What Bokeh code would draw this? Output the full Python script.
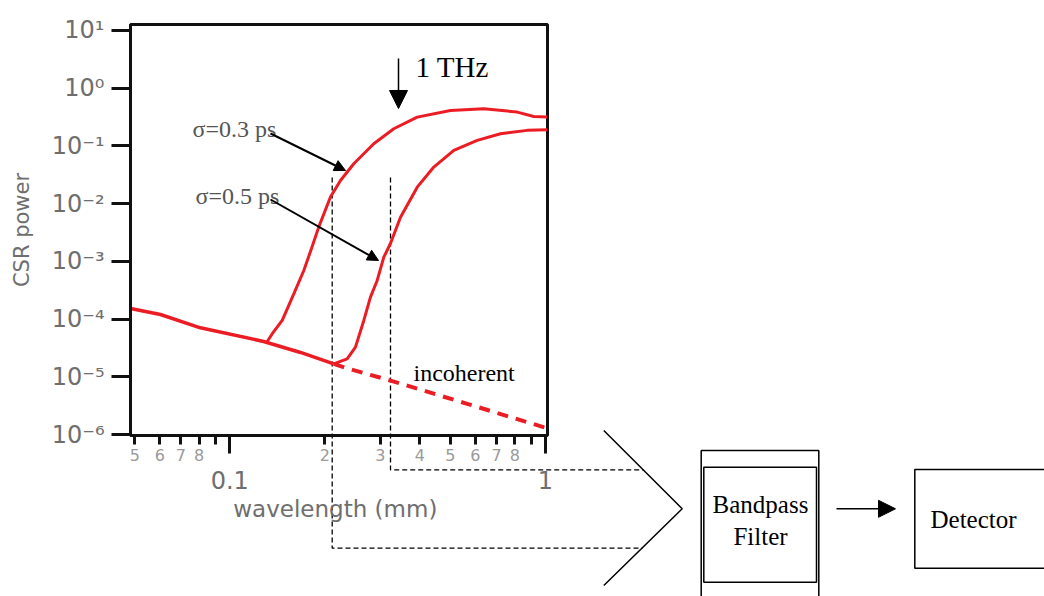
from bokeh.plotting import figure
from bokeh.models import (FixedTicker, Label, Arrow, NormalHead, GridBox, Range1d)
from bokeh.core.properties import value
from bokeh.embed import file_html
from bokeh.resources import INLINE

# ---------------- data ----------------
incoh_solid_x = [0.0485, 0.0603, 0.0807, 0.128, 0.1675, 0.2135]
incoh_solid_y = [1.53e-4, 1.20e-4, 7.06e-5, 4.09e-5, 2.64e-5, 1.68e-5]
incoh_dash_x = [0.2135, 0.2377, 0.323, 0.565, 0.9856, 1.015]
incoh_dash_y = [1.68e-5, 1.38e-5, 8.6e-6, 3.4e-6, 1.34e-6, 1.28e-6]

sig03_x = [0.1314, 0.1365, 0.1466, 0.1595, 0.1716, 0.1815, 0.1913, 0.2084, 0.2242,
           0.247, 0.2858, 0.3307, 0.3924, 0.5, 0.6375, 0.8136, 0.918, 1.015]
sig03_y = [4.09e-5, 5.63e-5, 9.46e-5, 2.74e-4, 6.95e-4, 1.67e-3, 3.92e-3, 0.0130, 0.0252,
           0.0492, 0.109, 0.1986, 0.3155, 0.412, 0.4416, 0.3855, 0.324, 0.3155]

sig05_x = [0.2135, 0.2354, 0.2501, 0.2658, 0.2790, 0.2930, 0.3075, 0.3228, 0.3473,
           0.3924, 0.4428, 0.5123, 0.6077, 0.7203, 0.875, 1.015]
sig05_y = [1.68e-5, 2.05e-5, 3.26e-5, 9.46e-5, 2.40e-4, 4.67e-4, 1.18e-3, 2.04e-3, 5.83e-3,
           0.0193, 0.043, 0.0836, 0.1245, 0.1626, 0.186, 0.191]

y_ticks = [1e-6, 1e-5, 1e-4, 1e-3, 1e-2, 1e-1, 1.0, 10.0]
y_tick_labels = ["10\u207b\u2076", "10\u207b\u2075", "10\u207b\u2074", "10\u207b\u00b3",
                 "10\u207b\u00b2", "10\u207b\u00b9", "10\u2070", "10\u00b9"]
x_major = [0.1, 1.0]
x_major_labels = ["0.1", "1"]
x_minor = [0.05, 0.06, 0.07, 0.08, 0.09, 0.2, 0.3, 0.4, 0.5, 0.6, 0.7, 0.8, 0.9]
x_minor_lab_pos = [0.05, 0.06, 0.07, 0.08, 0.2, 0.3, 0.4, 0.5, 0.6, 0.7, 0.8]
x_minor_labels = ["5", "6", "7", "8", "2", "3", "4", "5", "6", "7", "8"]

# schematic (bandpass filter / detector) texts
box_texts = ["Bandpass", "Filter", "Detector"]

RED = "#ec1c24"
GREY = "#6e6e6e"
INK = "#111111"
SERIF = "Liberation Serif"
SANS = "DejaVu Sans"

W, H = 1044, 596
X_RANGE = (0.04848, 1.0147)
Y_RANGE = (9.61e-7, 12.7)
BORDERS = dict(min_border_left=130, min_border_right=497, min_border_top=24, min_border_bottom=161)

# ================= layer 1: schematic, in canvas pixels =================
sch = figure(width=W, height=H, x_range=Range1d(0, W), y_range=Range1d(H, 0),
             x_axis_location=None, y_axis_location=None, min_border=0,
             output_backend="svg", toolbar_location=None)
sch.frame_align = False
sch.grid.visible = False
sch.outline_line_color = None
sch.background_fill_color = "white"
sch.border_fill_color = "white"

# dashed guide lines leaving the chart
sch.multi_line(xs=[[331.7, 331.7, 642], [390, 390, 643]],
               ys=[[177, 547.7, 547.7], [177, 469.3, 469.3]],
               line_color="black", line_width=1.3, line_dash="5 3")
# chevron (collecting optic)
sch.line([603.3, 681.7, 603.3], [430, 508.3, 585], line_color="black", line_width=1.5)
# bandpass filter: outer + inner frame, detector box
sch.quad(left=[700.7, 703.3, 914.3], right=[818.3, 816, 1060],
         top=[450, 466.7, 469], bottom=[610, 581.7, 567.7],
         fill_color=None, line_color="black", line_width=1.5)
sch.text(x=[760, 760, 930], y=[504, 536, 519], text=box_texts,
         text_font=value(SERIF), text_font_size="25px", text_color="black",
         text_align=["center", "center", "left"], text_baseline="alphabetic")
sch.add_layout(Arrow(x_start=836, y_start=508.3, x_end=895, y_end=508.3, start=None,
                     end=NormalHead(size=17, fill_color="black", line_color="black"),
                     line_color="black", line_width=1.5))

# ================= layer 2: the log-log chart =================
p = figure(width=W, height=H, x_axis_type="log", y_axis_type="log",
           x_range=X_RANGE, y_range=Y_RANGE,
           output_backend="svg", toolbar_location=None, **BORDERS)
p.frame_align = False
p.grid.visible = False
p.outline_line_color = INK
p.outline_line_width = 3
p.background_fill_color = None
p.border_fill_color = None

xa = p.xaxis[0]
xa.ticker = FixedTicker(ticks=x_major, minor_ticks=x_minor)
xa.major_label_overrides = dict(zip(x_major, x_major_labels))
xa.major_tick_out = 18
xa.major_tick_in = 0
xa.minor_tick_out = 9
xa.minor_tick_in = 0
xa.major_tick_line_width = 3
xa.minor_tick_line_width = 3
xa.axis_line_width = 3
xa.axis_line_color = INK
xa.major_tick_line_color = INK
xa.minor_tick_line_color = INK
xa.major_label_text_font = SANS
xa.major_label_text_font_size = "24px"
xa.major_label_text_color = GREY
xa.major_label_standoff = 17
xa.axis_label = "wavelength  (mm)"
xa.axis_label_text_font = SANS
xa.axis_label_text_font_size = "23px"
xa.axis_label_text_font_style = "normal"
xa.axis_label_text_color = GREY
xa.axis_label_standoff = 4

ya = p.yaxis[0]
ya.ticker = FixedTicker(ticks=y_ticks, minor_ticks=[])
ya.major_label_overrides = dict(zip(y_ticks, y_tick_labels))
ya.major_tick_out = 19
ya.major_tick_in = 0
ya.minor_tick_out = 0
ya.minor_tick_in = 0
ya.major_tick_line_width = 3
ya.axis_line_width = 3
ya.axis_line_color = INK
ya.major_tick_line_color = INK
ya.major_label_text_font = SANS
ya.major_label_text_font_size = "24px"
ya.major_label_text_color = GREY
ya.major_label_standoff = 7
ya.axis_label = "CSR power"
ya.axis_label_text_font = SANS
ya.axis_label_text_font_size = "21px"
ya.axis_label_text_font_style = "normal"
ya.axis_label_text_color = GREY
ya.axis_label_standoff = 15

p.line(incoh_solid_x, incoh_solid_y, line_color=RED, line_width=3.5)
p.line(incoh_dash_x, incoh_dash_y, line_color=RED, line_width=4, line_dash="11 8")
p.line(sig03_x, sig03_y, line_color=RED, line_width=3)
p.line(sig05_x, sig05_y, line_color=RED, line_width=3)

# in-chart annotations (screen units: from frame's bottom-left, y up)
FRAME_LEFT, FRAME_BOTTOM = 130, 435


def sx(px):
    return px - FRAME_LEFT


def sy(py):
    return FRAME_BOTTOM - py


def arrow(x0, y0, x1, y1, width, head_size):
    p.add_layout(Arrow(x_start=sx(x0), y_start=sy(y0), x_end=sx(x1), y_end=sy(y1),
                       start_units="screen", end_units="screen", start=None,
                       end=NormalHead(size=head_size, fill_color="black", line_color="black"),
                       line_color="black", line_width=width))


def label(s, x, y, size, color="black"):
    p.add_layout(Label(x=sx(x), y=sy(y), x_units="screen", y_units="screen", text=s,
                       text_font=SERIF, text_font_size=size, text_color=color,
                       text_baseline="alphabetic"))


label("1 THz", 415, 66, "29px")
arrow(398, 58, 398, 108, 1.5, 18)
label("\u03c3=0.3 ps", 192, 128, "24px", "#555555")
arrow(270, 133, 345, 170, 2, 11)
label("\u03c3=0.5 ps", 195, 195, "24px", "#555555")
arrow(270, 199, 378, 260, 2, 11)
label("incoherent", 413, 372, "24px")

# ================= layer 3: minor-tick digits (same frame as the chart) =================
d = figure(width=W, height=H, x_axis_type="log", x_range=X_RANGE, y_range=Y_RANGE,
           y_axis_type="log", y_axis_location=None,
           output_backend="svg", toolbar_location=None, **BORDERS)
d.frame_align = False
d.grid.visible = False
d.outline_line_color = None
d.background_fill_color = None
d.border_fill_color = None
da = d.xaxis[0]
da.ticker = FixedTicker(ticks=x_minor_lab_pos, minor_ticks=[])
da.major_label_overrides = dict(zip(x_minor_lab_pos, x_minor_labels))
da.axis_line_color = None
da.major_tick_line_color = None
da.minor_tick_line_color = None
da.major_tick_out = 0
da.major_tick_in = 0
da.minor_tick_out = 0
da.minor_tick_in = 0
da.major_label_standoff = 13
da.major_label_text_font = SANS
da.major_label_text_font_size = "16px"
da.major_label_text_color = "#9a9a9a"

layout = GridBox(children=[(sch, 0, 0), (p, 0, 0), (d, 0, 0)])

open("out.html", "w").write(file_html(layout, INLINE))
